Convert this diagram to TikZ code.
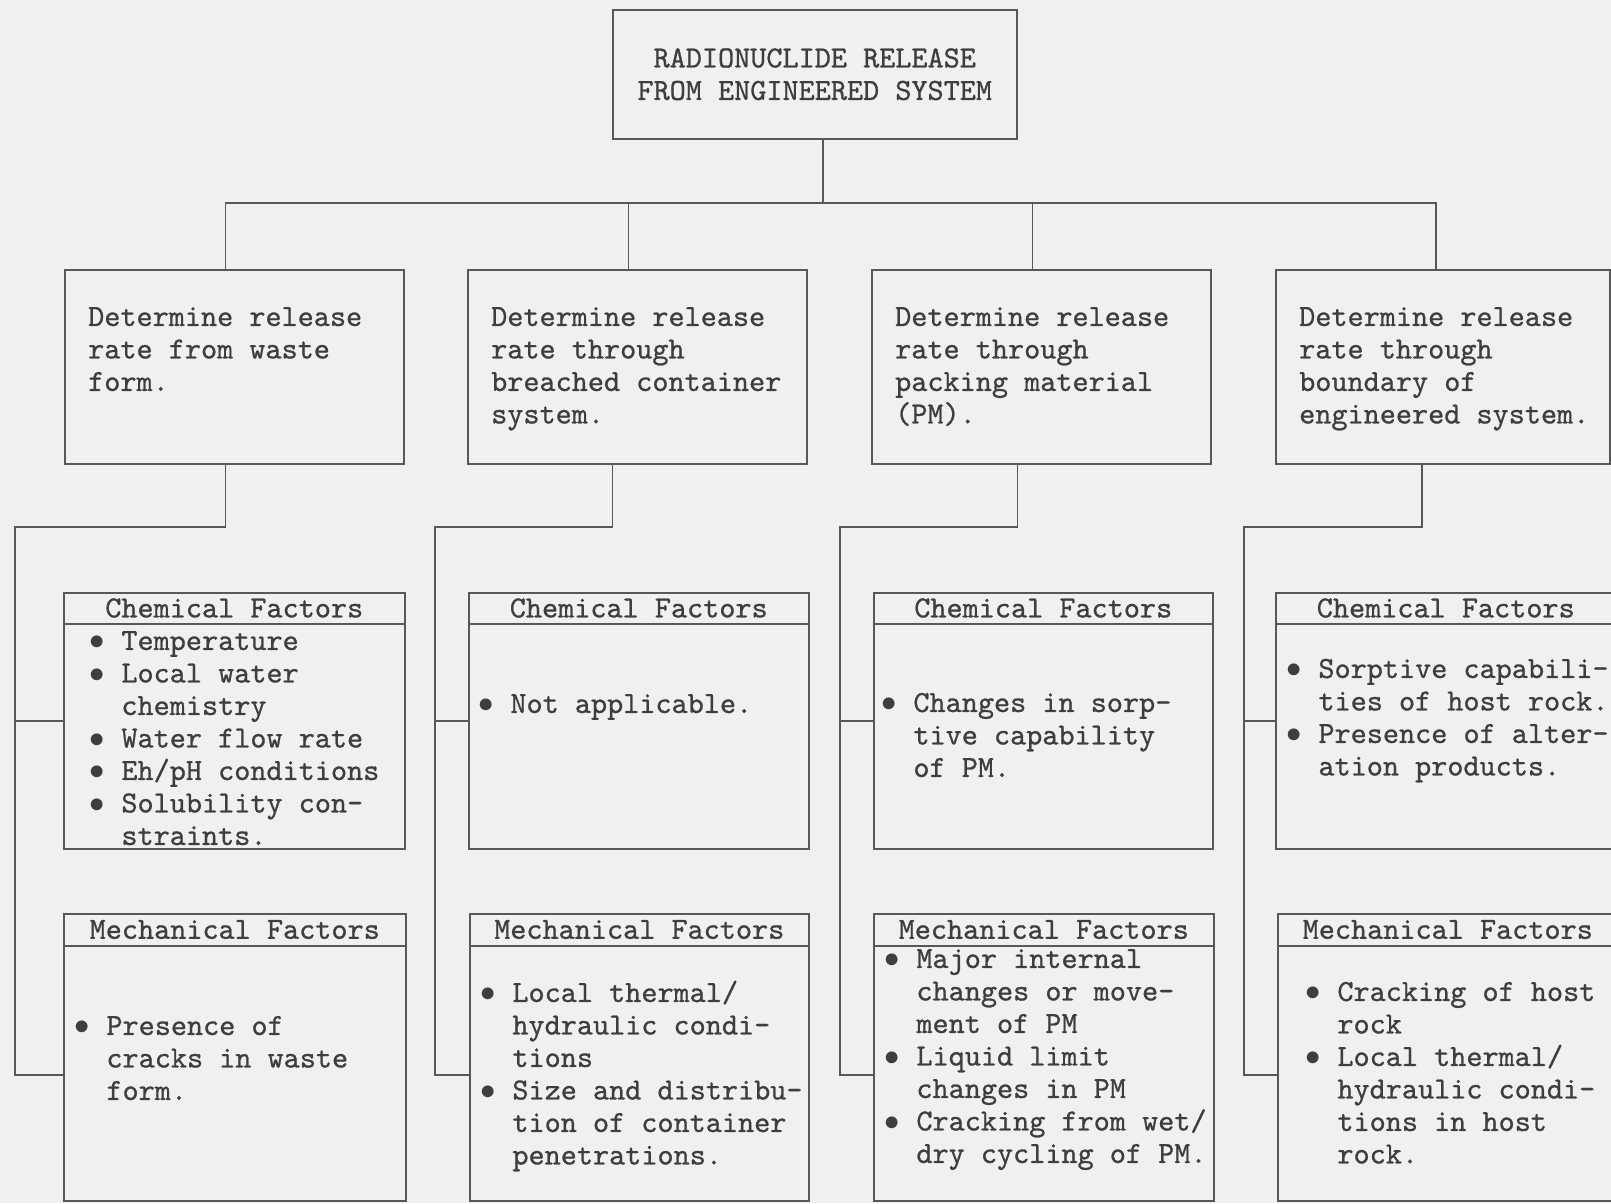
\RequirePackage{fix-cm}
\documentclass[tikz,border=0pt]{standalone}
\usepackage{fontspec}
\setmonofont{lmmono10-regular.otf}[FakeBold=0.8]
\usepackage{tikz}
\definecolor{paper}{RGB}{240,240,238}
\definecolor{ink}{RGB}{62,62,62}
\definecolor{rule}{RGB}{88,88,88}
\newcommand\bul{\makebox[0.525em][c]{$\bullet$}\ }
\newcommand\ind{\hspace*{1.05em}}

\begin{document}
\begin{tikzpicture}[x=1pt,y=-1pt,
    font=\fontsize{30.7pt}{32.5pt}\selectfont\ttfamily,
    box/.style={draw=rule,line width=1.5pt,inner sep=0pt,anchor=north west},
    txt/.style={anchor=north west,inner sep=0pt,align=left,text=ink},
    head/.style={inner sep=0pt,text=ink},
    link/.style={draw=rule,line width=1.5pt}]
    \fill[paper] (0,0) rectangle (1611,1203);
    \useasboundingbox (0,0) rectangle (1611,1203);

    \node[box,minimum width=404,minimum height=129,align=center,text=ink] (top) at (612,9)
        {RADIONUCLIDE RELEASE\\FROM ENGINEERED SYSTEM};

    \foreach \i/\x in {1/64,2/467,3/871}
        \node[box,minimum width=339,minimum height=194] (rate\i) at (\x,269) {};
    \node[box,minimum width=334,minimum height=194] (rate4) at (1275,269) {};

    \node[box,minimum width=341,minimum height=256] (chem1) at (63,592) {};
    \node[box,minimum width=340,minimum height=256] (chem2) at (468,592) {};
    \node[box,minimum width=339,minimum height=256] (chem3) at (873,592) {};
    \node[box,minimum width=340,minimum height=256] (chem4) at (1275,592) {};

    \node[box,minimum width=342,minimum height=287] (mech1) at (63,913) {};
    \node[box,minimum width=339,minimum height=287] (mech2) at (469,913) {};
    \node[box,minimum width=340,minimum height=287] (mech3) at (873,913) {};
    \node[box,minimum width=340,minimum height=287] (mech4) at (1277,913) {};

    \foreach \i in {1,2,3,4} {
        \draw[link] ([yshift=-32]chem\i.north west) -- ([yshift=-32]chem\i.north east);
        \node[head] at ([yshift=-16]chem\i.north) {Chemical Factors};
        \draw[link] ([yshift=-33]mech\i.north west) -- ([yshift=-33]mech\i.north east);
        \node[head] at ([yshift=-16.5]mech\i.north) {Mechanical Factors};
    }

    \node[txt] at ([shift={(24,34)}]rate1.north west) {\strut Determine release\\rate from waste\\form.};
    \node[txt] at ([shift={(24,34)}]rate2.north west) {\strut Determine release\\rate through\\breached container\\system.};
    \node[txt] at ([shift={(24,34)}]rate3.north west) {\strut Determine release\\rate through\\packing material\\(PM).};
    \node[txt] at ([shift={(24,34)}]rate4.north west) {\strut Determine release\\rate through\\boundary of\\engineered system.};

    \node[txt] at ([shift={(26,35)}]chem1.north west) {\strut\bul Temperature\\\bul Local water\\\ind chemistry\\\bul Water flow rate\\\bul Eh/pH conditions\\\bul Solubility con-\\\ind straints.};
    \node[txt] at ([shift={(10,98)}]chem2.north west) {\strut\bul Not applicable.};
    \node[txt] at ([shift={(8,97)}]chem3.north west) {\strut\bul Changes in sorp-\\\ind tive capability\\\ind of PM.};
    \node[txt] at ([shift={(11,63)}]chem4.north west) {\strut\bul Sorptive capabili-\\\ind ties of host rock.\\\bul Presence of alter-\\\ind ation products.};

    \node[txt] at ([shift={(11,99)}]mech1.north west) {\strut\bul Presence of\\\ind cracks in waste\\\ind form.};
    \node[txt] at ([shift={(11,66)}]mech2.north west) {\strut\bul Local thermal/\\\ind hydraulic condi-\\\ind tions\\\bul Size and distribu-\\\ind tion of container\\\ind penetrations.};
    \node[txt] at ([shift={(11,32)}]mech3.north west) {\strut\bul Major internal\\\ind changes or move-\\\ind ment of PM\\\bul Liquid limit\\\ind changes in PM\\\bul Cracking from wet/\\\ind dry cycling of PM.};
    \node[txt] at ([shift={(28,65)}]mech4.north west) {\strut\bul Cracking of host\\\ind rock\\\bul Local thermal/\\\ind hydraulic condi-\\\ind tions in host\\\ind rock.};

    \coordinate (bus) at (0,203);
    \draw[link] ([xshift=8]top.south) -- ([xshift=8]top.south |- bus);
    \draw[link] ([xshift=-9]rate1.north) |- ([xshift=-7]rate4.north |- bus) -- ([xshift=-7]rate4.north);
    \draw[link] ([xshift=-9]rate2.north) -- ([xshift=-9]rate2.north |- bus);
    \draw[link] ([xshift=-9]rate3.north) -- ([xshift=-9]rate3.north |- bus);

    \foreach \i/\dx/\sx in {1/-9/15,2/-25/435,3/-24/840,4/-21/1244} {
        \draw[link] ([xshift=\dx]rate\i.south) |- (\sx,527) |- (mech\i.west |- 0,1075);
        \draw[link] (\sx,721) -- (chem\i.west |- 0,721);
    }
\end{tikzpicture}
\end{document}
